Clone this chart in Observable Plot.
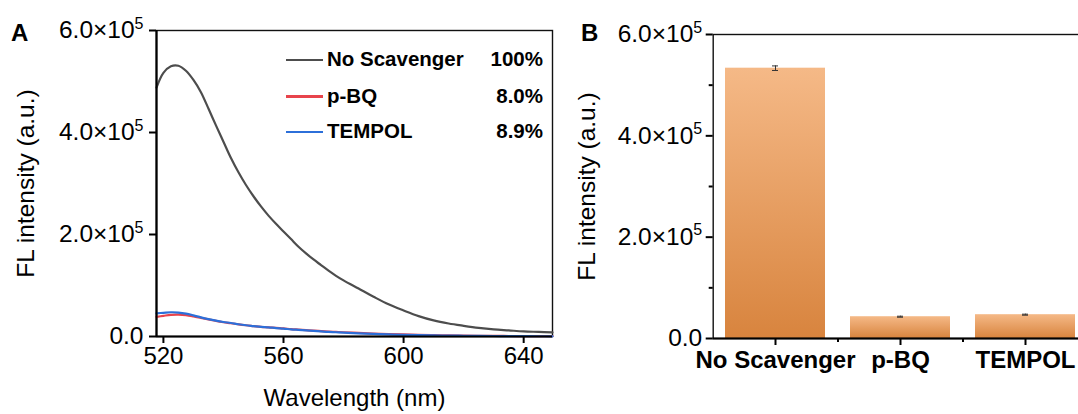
<!DOCTYPE html>
<html>
<head>
<meta charset="utf-8">
<script src="https://cdn.jsdelivr.net/npm/d3@7"></script>
<script src="https://cdn.jsdelivr.net/npm/@observablehq/plot@0.6"></script>
<style>
  html, body { margin: 0; padding: 0; background: #fff; overflow: hidden; }
  body { width: 1078px; height: 414px; position: relative; font-family: "Liberation Sans", Arial, sans-serif; }
  .panel { position: absolute; top: 0; }
  .letter { position: absolute; font-weight: bold; font-size: 24px; line-height: 1; color: #000; }
  .lg-line { position: absolute; height: 2.5px; }
  .lg-text { position: absolute; font-weight: bold; font-size: 20.5px; line-height: 1; color: #000; white-space: nowrap; }
</style>
</head>
<body>
<div id="A" class="panel" style="left:0px;width:560px;"></div>
<div id="B" class="panel" style="left:560px;width:560px;"></div>
<script>
// ---------------- DATA ----------------
const wavelengths = [517.7, 520, 522.5, 525, 527.5, 530, 532.5, 535, 537.5, 540, 542.5, 545, 547.5, 550, 552.5, 555, 557.5, 560, 562.5, 565, 567.5, 570, 572.5, 575, 577.5, 580, 585, 590, 595, 600, 605, 610, 615, 620, 625, 630, 635, 640, 645, 649.6];
const noScavenger = [488000, 517000, 530000, 531000, 521000, 503000, 479000, 447000, 414000, 382000, 350000, 322000, 297000, 275000, 255000, 237000, 221000, 206000, 191000, 176000, 163000, 151000, 140000, 129000, 119000, 110000, 94000, 78000, 63000, 51000, 40000, 31500, 25500, 21000, 17000, 14000, 12000, 10000, 9000, 8000];
const pBQ = [38500, 40500, 42500, 43000, 42000, 39500, 36500, 33500, 30500, 28000, 26000, 23800, 22000, 20500, 19000, 18000, 16800, 15800, 14500, 13500, 12500, 11500, 10600, 9700, 9000, 8300, 7000, 5800, 4800, 4000, 3300, 2700, 2200, 1800, 1500, 1200, 1000, 800, 700, 600];
const tempol = [45500, 46500, 47500, 47000, 45000, 41500, 37500, 34000, 31000, 28500, 26500, 24000, 22000, 20500, 19000, 18000, 16500, 15500, 14000, 13000, 12000, 11000, 10000, 9000, 8300, 7500, 6000, 5000, 4000, 3300, 2700, 2200, 1800, 1500, 1200, 1000, 800, 600, 500, 400];

const seriesNames = ["No Scavenger", "p-BQ", "TEMPOL"];
const seriesPercents = ["100%", "8.0%", "8.9%"];
const seriesColors = ["#4d4d4d", "#e8444c", "#2c6fd9"];

const barCategories = ["No Scavenger", "p-BQ", "TEMPOL"];
const barValues = [533500, 43000, 47000];
const barErrors = [4500, 1000, 1000];

const xDomainA = [517.7, 649.6];
const xTicksA = [520, 560, 600, 640];
const yDomain = [0, 600000];
const yTicks = [0, 200000, 400000, 600000];
const yTickLabels = ["0.0", "2.0×10^5", "4.0×10^5", "6.0×10^5"];
const yMinorTicks = [100000, 300000, 500000];

const FONT = "Liberation Sans, Arial, sans-serif";
const NS = "http://www.w3.org/2000/svg";

// ---------------- TABLES ----------------
const lineTable = [];
[noScavenger, pBQ, tempol].forEach((vals, s) => {
  wavelengths.forEach((w, i) => lineTable.push({series: seriesNames[s], w, v: vals[i]}));
});
const barTable = barCategories.map((c, i) => ({cat: c, val: barValues[i], err: barErrors[i]}));

const yFmt = d => yTickLabels[yTicks.indexOf(d)];

function superscripts(svg) {
  svg.querySelectorAll('g[aria-label="y-axis tick label"] text').forEach(t => {
    const s = t.textContent;
    const i = s.indexOf("^");
    if (i < 0) return;
    t.textContent = "";
    const a = document.createElementNS(NS, "tspan");
    a.textContent = s.slice(0, i);
    const b = document.createElementNS(NS, "tspan");
    b.textContent = s.slice(i + 1);
    b.setAttribute("font-size", "16");
    b.setAttribute("dy", "-0.6em");
    t.append(a, b);
  });
}

// ---------------- PANEL A ----------------
const lineOf = name => lineTable.filter(d => d.series === name);
const svgA = Plot.plot({
  width: 560, height: 414,
  marginLeft: 156, marginRight: 8, marginTop: 30, marginBottom: 78,
  style: {fontFamily: FONT, color: "#000", background: "transparent"},
  x: {domain: xDomainA},
  y: {domain: yDomain},
  marks: [
    Plot.frame({stroke: "#111", strokeWidth: 1.4}),
    Plot.line(lineOf("p-BQ"), {x: "w", y: "v", stroke: seriesColors[1], strokeWidth: 2.2, curve: "catmull-rom"}),
    Plot.line(lineOf("TEMPOL"), {x: "w", y: "v", stroke: seriesColors[2], strokeWidth: 2.2, curve: "catmull-rom"}),
    Plot.line(lineOf("No Scavenger"), {x: "w", y: "v", stroke: seriesColors[0], strokeWidth: 2.2, curve: "catmull-rom"}),
    Plot.ruleX([xDomainA[0]], {stroke: "#000", strokeWidth: 2.2}),
    Plot.ruleY([yDomain[0]], {stroke: "#000", strokeWidth: 2.2}),
    Plot.axisX({ticks: xTicksA, tickFormat: d => String(d), tickSize: 7, tickPadding: 3, strokeWidth: 2, fontSize: 24,
      label: "Wavelength (nm)", labelAnchor: "center", labelOffset: 69, labelArrow: "none"}),
    Plot.axisY({ticks: yTicks, tickFormat: yFmt, tickSize: 7, tickPadding: 6, strokeWidth: 2, fontSize: 24.5,
      label: "FL intensity (a.u.)", labelAnchor: "center", labelOffset: 140, labelArrow: "none"})
  ]
});
superscripts(svgA);
const panelA = document.getElementById("A");
panelA.append(svgA);

// letter
const la = document.createElement("div");
la.className = "letter"; la.textContent = "A";
la.style.left = "11px"; la.style.top = "21px";
panelA.append(la);

// legend (A)
const legendRowsY = [60, 96.5, 132];
seriesNames.forEach((name, i) => {
  const ln = document.createElement("div");
  ln.className = "lg-line";
  ln.style.left = "286px"; ln.style.width = "37px";
  ln.style.top = (legendRowsY[i] - 1.25) + "px";
  ln.style.background = seriesColors[i];
  panelA.append(ln);
  const tx = document.createElement("div");
  tx.className = "lg-text"; tx.textContent = name;
  tx.style.left = "327px"; tx.style.top = (legendRowsY[i] - 11) + "px";
  panelA.append(tx);
  const pc = document.createElement("div");
  pc.className = "lg-text"; pc.textContent = seriesPercents[i];
  pc.style.right = (560 - 543) + "px"; pc.style.top = (legendRowsY[i] - 11) + "px";
  panelA.append(pc);
});

// ---------------- PANEL B ----------------
const minorCats = barCategories.slice(1);
const svgB = Plot.plot({
  width: 560, height: 414,
  marginLeft: 152.7, marginRight: 32.3, marginTop: 34, marginBottom: 76,
  style: {fontFamily: FONT, color: "#000", background: "transparent"},
  x: {domain: barCategories, paddingInner: 0.2, paddingOuter: 0.1},
  y: {domain: yDomain},
  marks: [
    Plot.barY(barTable, {x: "cat", y: "val", fill: "url(#barGrad)"}),
    Plot.ruleX(barTable, {x: "cat", y1: d => d.val - d.err, y2: d => d.val + d.err, stroke: "#333", strokeWidth: 1}),
    Plot.tickY(barTable, {x: "cat", y: d => d.val - d.err, stroke: "#333", strokeWidth: 1, insetLeft: 47, insetRight: 47}),
    Plot.tickY(barTable, {x: "cat", y: d => d.val + d.err, stroke: "#333", strokeWidth: 1, insetLeft: 47, insetRight: 47}),
    Plot.frame({stroke: "#111", strokeWidth: 1.4}),
    Plot.ruleY([yDomain[0]], {stroke: "#000", strokeWidth: 2.2}),
    Plot.axisX({tickSize: 7, tickPadding: 5, strokeWidth: 2, fontSize: 24, fontWeight: "bold", label: null}),
    Plot.ruleX(minorCats, {x: d => d, y1: () => yDomain[0], y2: () => yDomain[0], dx: -62.5, insetTop: 4, stroke: "#000", strokeWidth: 2}),
    Plot.axisY({ticks: yTicks, tickFormat: yFmt, tickSize: 7, tickPadding: 4, strokeWidth: 2, fontSize: 24.5,
      label: "FL intensity (a.u.)", labelAnchor: "center", labelOffset: 136, labelArrow: "none"}),
    Plot.axisY({ticks: yMinorTicks, tickFormat: () => "", tickSize: 4, strokeWidth: 2, label: null})
  ]
});
// gradient defs
const defs = document.createElementNS(NS, "defs");
defs.innerHTML = '<linearGradient id="barGrad" x1="0" y1="0" x2="0" y2="1">' +
  '<stop offset="0" stop-color="#f5b987"/><stop offset="1" stop-color="#d8843e"/></linearGradient>';
svgB.insertBefore(defs, svgB.firstChild);
superscripts(svgB);
const panelB = document.getElementById("B");
panelB.append(svgB);
const lb = document.createElement("div");
lb.className = "letter"; lb.textContent = "B";
lb.style.left = "21px"; lb.style.top = "21px";
panelB.append(lb);
</script>
</body>
</html>
